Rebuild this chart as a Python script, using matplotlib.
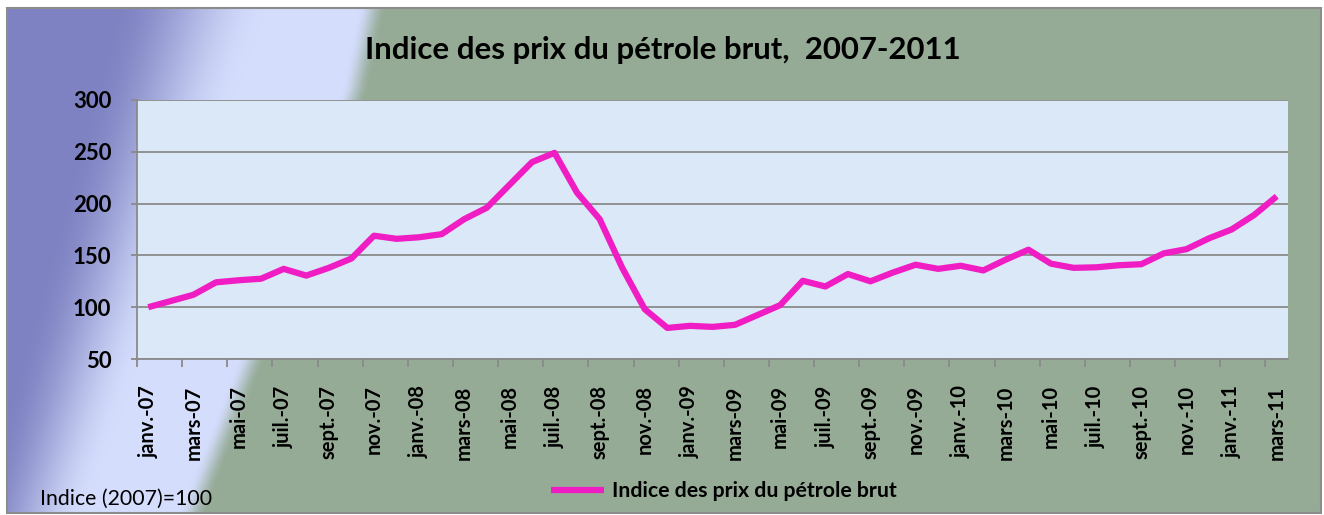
import numpy as np
from matplotlib import pyplot as plt
from matplotlib.patches import Rectangle

# Monthly crude oil price index, janv. 2007 -> mars 2011 (2007 = 100)
values = [100, 106, 112, 124, 126, 127.5, 137, 130.5, 138, 147, 169, 166,
          167.5, 170.5, 185, 196, 218, 240, 249, 210.5, 185, 138, 98, 80,
          82, 81, 83, 92.5, 102, 125.5, 120, 132, 125, 133.5, 141, 137,
          140, 135.5, 146, 155.5, 142, 138, 138.5, 140.5, 141.5, 152, 156, 166.5,
          175, 189, 207]
# one label every second month
month_labels = ['janv.-07', 'mars-07', 'mai-07', 'juil.-07', 'sept.-07', 'nov.-07',
                'janv.-08', 'mars-08', 'mai-08', 'juil.-08', 'sept.-08', 'nov.-08',
                'janv.-09', 'mars-09', 'mai-09', 'juil.-09', 'sept.-09', 'nov.-09',
                'janv.-10', 'mars-10', 'mai-10', 'juil.-10', 'sept.-10', 'nov.-10',
                'janv.-11', 'mars-11']
y_ticks = [50, 100, 150, 200, 250, 300]

title = 'Indice des prix du pétrole brut,  2007-2011'
series_name = 'Indice des prix du pétrole brut'
note = 'Indice (2007)=100'

W, H = 1324, 515
line_color = '#f01cc4'
grid_color = '#8a8a8a'
font = 'Lato'

plt.rcParams['font.family'] = [font, 'DejaVu Sans']

fig = plt.figure(figsize=(W / 100, H / 100), dpi=100)
fig.patch.set_facecolor('white')

# Background: purple -> light blue -> grey-green, with a slanted boundary
xx = np.arange(W)[None, :].astype(float)
yy = np.arange(H)[:, None].astype(float)
purple = np.array([0x7e, 0x82, 0xc2]) / 255
light = np.array([0xd4, 0xdd, 0xfc]) / 255
green = np.array([0x95, 0xab, 0x96]) / 255

p = 115 - 0.27 * yy
l = 270 - 0.36 * yy
t = np.clip((xx - p) / (l - p), 0, 1)
t = t * t * (3 - 2 * t)
g = np.where(yy > 90, 355 - 0.385 * (yy - 90), 355 + 0.21 * (90 - yy))
s = np.clip((xx - (g - 14)) / 28, 0, 1)
s = s * s * (3 - 2 * s)
t = t[..., None]
s = s[..., None]
img = purple * (1 - t) + light * t
img = img * (1 - s) + green * s
img[:8, :] = 1
img[513:, :] = 1
img[:, :7] = 1
img[:, 1322:] = 1
fig.figimage(img, 0, 0, origin='upper', zorder=-1)
fig.add_artist(Rectangle((7 / W, 2 / H), 1314 / W, 505 / H, transform=fig.transFigure,
                         fill=False, edgecolor='#8c8c8c', linewidth=1.5))

ax = fig.add_axes([137 / W, (H - 359) / H, (1288 - 137) / W, 259 / H])
ax.set_facecolor('#dae8f7')

x = np.arange(len(values))
ax.plot(x, values, color=line_color, linewidth=4.5, solid_joinstyle='round',
        solid_capstyle='butt', label=series_name, zorder=3)

ax.set_xlim(-0.5, len(values) - 0.5)
ax.set_ylim(50, 300)
ax.set_yticks(y_ticks)
ax.set_yticklabels([str(v) for v in y_ticks], fontsize=16, fontweight='bold')
ax.yaxis.grid(True, color=grid_color, linewidth=1.3)
ax.set_axisbelow(True)

ax.set_xticks(x[::2])
ax.set_xticklabels(month_labels, rotation=90, fontsize=14.5, fontweight='bold')
ax.set_xticks(np.arange(-0.5, len(values) - 1, 2), minor=True)
ax.tick_params(axis='x', which='major', length=0, pad=19)
ax.tick_params(axis='x', which='minor', length=6, width=1.3, color=grid_color)
ax.tick_params(axis='y', length=4.5, width=1.3, color=grid_color, pad=14)

for side in ['top', 'right']:
    ax.spines[side].set_visible(False)
for side in ['left', 'bottom']:
    ax.spines[side].set_color(grid_color)
    ax.spines[side].set_linewidth(1.3)

fig.text(663 / W, 1 - 50 / H, title, ha='center', va='center',
         fontsize=22.4, fontweight='bold')
fig.text(40 / W, 1 - 499 / H, note, ha='left', va='center', fontsize=15.3)

fig.legend(loc='center', bbox_to_anchor=(724 / W, 1 - 491 / H), frameon=False,
           prop={'size': 15.3, 'weight': 'bold'}, handlelength=2.5,
           handletextpad=0.4, borderpad=0)

fig.savefig('out.png', dpi=100)
